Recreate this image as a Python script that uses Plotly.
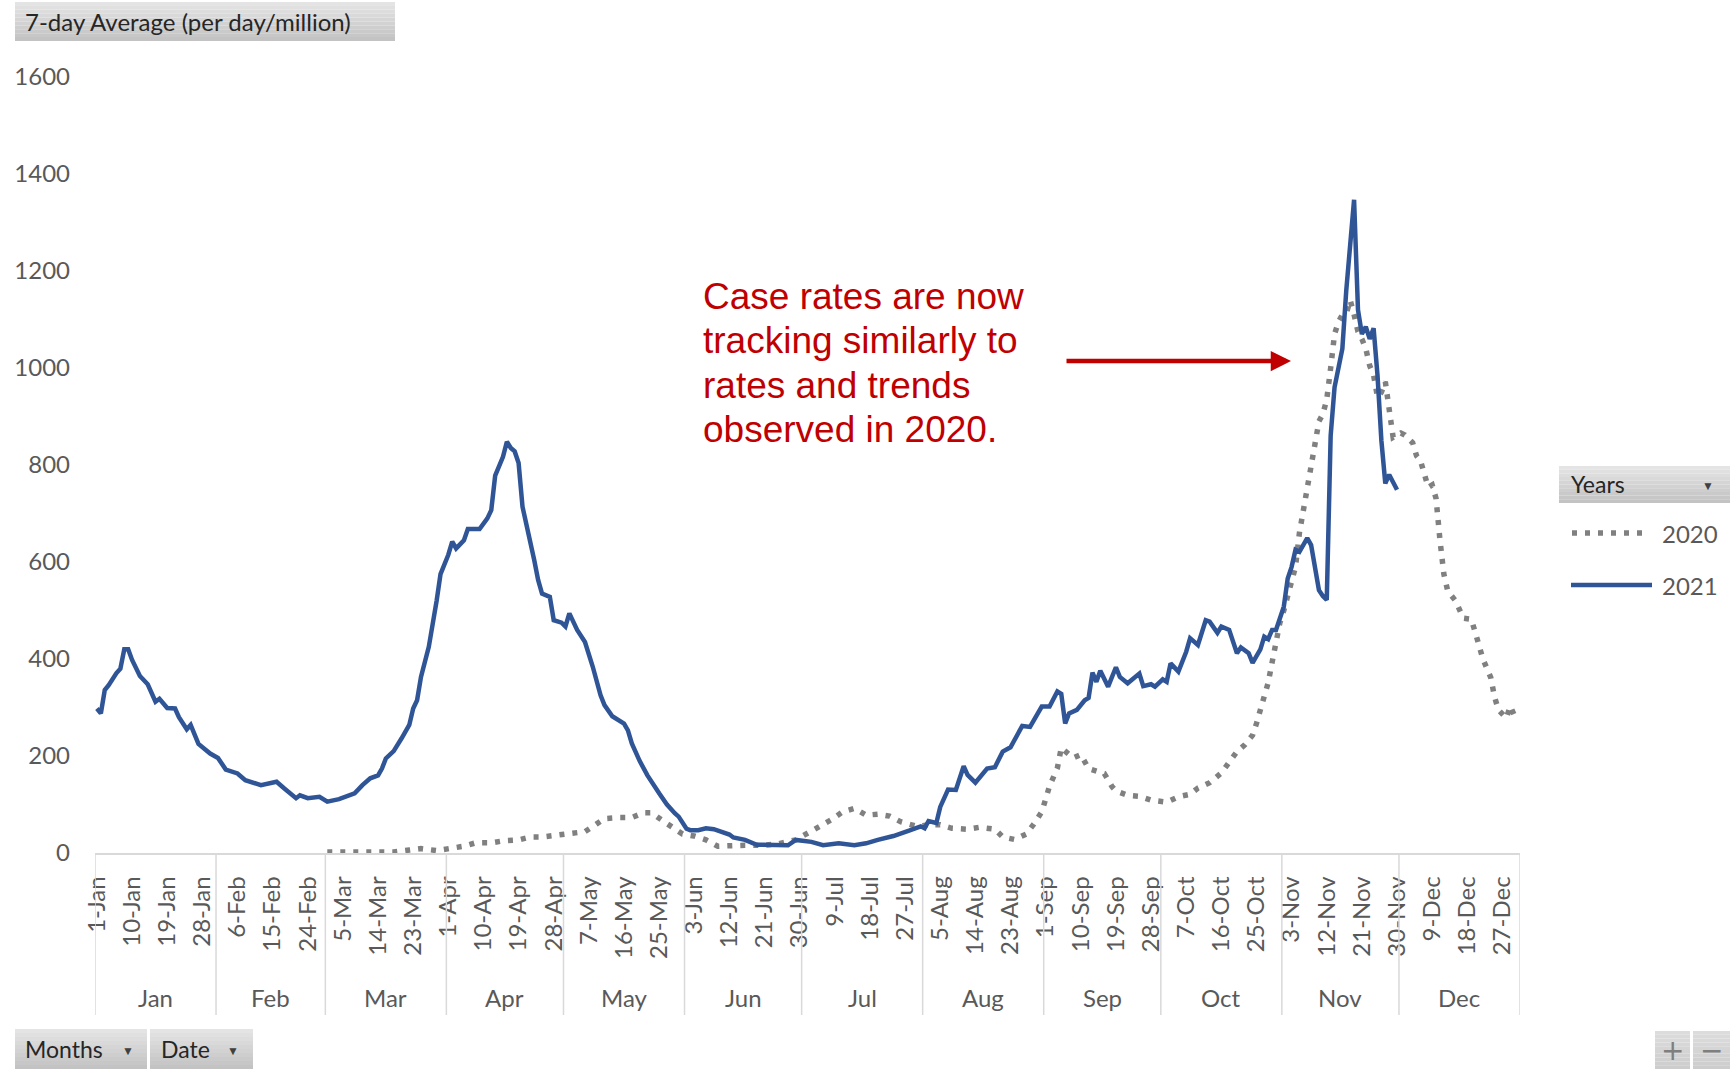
import plotly.graph_objects as go
import pandas as pd

# ---------------- data ----------------
YEAR_NAMES = ["2020", "2021"]
MONTHS = ["Jan", "Feb", "Mar", "Apr", "May", "Jun",
          "Jul", "Aug", "Sep", "Oct", "Nov", "Dec"]
MONTH_DAYS = [31, 28, 31, 30, 31, 30, 31, 31, 30, 31, 30, 31]

# day offsets from 1-Jan (0 = 1-Jan) and 7-day average values per day/million
DAY_2020 = [59, 65, 71, 76, 80, 83, 87, 90, 94, 97, 101, 104, 108, 111, 114, 118,
            121, 125, 128, 130, 134, 137, 140, 142, 145, 147, 150, 153, 156, 159,
            162, 166, 170, 174, 179, 182, 185, 188, 191, 194, 197, 200, 203, 206,
            210, 213, 216, 219, 223, 226, 230, 232, 235, 238, 240, 242, 243, 244,
            246, 247, 250, 252, 254, 255, 258, 260, 261, 264, 267, 270, 274, 277,
            280, 282, 285, 288, 290, 292, 294, 296, 297, 298, 299, 300, 301, 302,
            303, 304, 305, 306, 307, 308, 309, 310, 311, 312, 313, 314, 315, 316,
            317, 318, 319, 320, 321, 322, 323, 324, 325, 326, 327, 328, 329, 330,
            331, 332, 334, 335, 337, 338, 339, 340, 341, 342, 343, 344, 345, 346,
            348, 350, 352, 353, 354, 355, 357, 358, 359, 361, 362, 363, 364]
VAL_2020 = [2, 2, 2, 2, 6, 9, 5, 9, 14, 21, 21, 25, 27, 33, 33, 37,
            40, 44, 60, 71, 73, 73, 83, 83, 66, 54, 39, 35, 27, 14,
            16, 16, 16, 18, 27, 40, 54, 68, 85, 92, 78, 80, 76, 64,
            55, 58, 58, 51, 49, 53, 49, 33, 28, 39, 60, 85, 111, 138,
            175, 217, 196, 203, 174, 172, 164, 137, 128, 119, 117, 109, 105, 116,
            121, 134, 145, 165, 185, 209, 223, 243, 267, 295, 322, 351, 393, 436,
            475, 500, 528, 557, 590, 660, 705, 745, 800, 850, 890, 905, 935, 1000,
            1070, 1095, 1110, 1112, 1140, 1110, 1075, 1060, 1040, 1005, 985, 940, 950, 972,
            914, 857, 866, 862, 846, 819, 809, 782, 754, 759, 731, 645, 575, 540,
            520, 484, 482, 456, 429, 400, 362, 321, 295, 278, 303, 285, 280]

DAY_2021 = [0, 1, 2, 3, 5, 6, 7, 8, 9, 11, 13, 15, 16, 18, 20, 21, 23, 24, 26, 29,
            31, 33, 36, 38, 42, 46, 48, 49, 51, 52, 54, 57, 59, 62, 64, 66, 68, 70,
            72, 73, 74, 76, 78, 80, 81, 82, 83, 85, 87, 88, 90, 91, 92, 94, 95, 98,
            100, 101, 102, 103, 104, 105, 106, 107, 108, 109, 110, 112, 113, 114,
            116, 117, 119, 120, 121, 123, 125, 127, 129, 130, 132, 135, 136, 137,
            139, 141, 144, 146, 148, 149, 151, 152, 154, 156, 158, 160, 162, 163,
            166, 169, 173, 177, 179, 183, 186, 190, 194, 197, 200, 204, 208, 211,
            212, 213, 215, 216, 218, 220, 222, 223, 225, 228, 230, 232, 234, 237,
            239, 242, 244, 246, 247, 248, 249, 251, 253, 254, 255, 256, 257, 259,
            261, 262, 264, 267, 268, 270, 271, 273, 274, 275, 277, 279, 280, 282,
            284, 285, 287, 288, 290, 292, 293, 295, 296, 298, 299, 300, 301, 302,
            304, 305, 306, 307, 308, 310, 311, 312, 313, 314, 315, 316, 317, 318,
            319, 320, 321, 322, 323, 324, 325, 326, 327, 328, 329, 330, 331, 332, 333]
VAL_2021 = [298, 288, 336, 346, 371, 380, 420, 420, 398, 365, 348, 312, 318, 299, 298, 280, 255, 264, 225, 205,
            196, 172, 164, 150, 140, 147, 133, 126, 113, 119, 113, 116, 106, 111, 116, 123, 140, 154,
            160, 174, 195, 210, 236, 264, 298, 315, 363, 425, 520, 575, 615, 642, 628, 645, 668, 668,
            690, 707, 778, 795, 817, 848, 835, 828, 804, 714, 680, 604, 563, 535,
            528, 480, 475, 467, 494, 460, 435, 384, 325, 305, 282, 267, 253, 226,
            190, 160, 123, 100, 82, 75, 50, 47, 47, 51, 49, 44, 38, 32,
            27, 17, 16, 16, 27, 23, 16, 20, 16, 20, 27, 35, 46, 55,
            51, 66, 62, 95, 131, 130, 179, 161, 145, 174, 177, 209, 218, 262,
            260, 302, 302, 333, 328, 267, 288, 295, 315, 320, 372, 353, 376, 343,
            383, 363, 350, 370, 344, 348, 343, 358, 353, 391, 374, 415, 443, 429,
            480, 477, 454, 467, 460, 412, 424, 412, 392, 420, 446, 441, 460, 460,
            508, 566, 590, 625, 621, 649, 635, 590, 542, 530, 522, 860, 960, 1000,
            1040, 1160, 1250, 1347, 1120, 1070, 1085, 1060, 1082, 985, 850, 762, 780, 765, 749]

Y_TICKS = [0, 200, 400, 600, 800, 1000, 1200, 1400, 1600]
TICK_EVERY_DAYS = 9
ANNOTATION_LINES = ["Case rates are now", "tracking similarly to",
                    "rates and trends", "observed in 2020."]

# ---------------- layout helpers ----------------
W, H = 1730, 1069
# plot area in page pixels
PL, PR, PT, PB = 95, 1520, 77, 853


def px(x):
    return (x - PL) / (PR - PL)


def py(y):
    return (PB - y) / (PB - PT)


FONT = "Lato, Calibri, sans-serif"
GRAY_TXT = "#595959"

dates = pd.date_range("2021-01-01", periods=365, freq="D")
tickvals = list(range(0, 365, TICK_EVERY_DAYS))
ticktext = [f"{dates[i].day}-{dates[i].strftime('%b')}" for i in tickvals]

fig = go.Figure()
fig.add_trace(go.Scatter(
    x=DAY_2020, y=VAL_2020, mode="lines", name=YEAR_NAMES[0],
    line=dict(color="#808080", width=5.5, dash="5px,8px"),
    text=[f"{dates[d].day}-{dates[d].strftime('%b')}" for d in DAY_2020],
    hovertemplate="%{text}: %{y}<extra>2020</extra>"))
fig.add_trace(go.Scatter(
    x=DAY_2021, y=VAL_2021, mode="lines", name=YEAR_NAMES[1],
    line=dict(color="#2F5597", width=4.5),
    text=[f"{dates[d].day}-{dates[d].strftime('%b')}" for d in DAY_2021],
    hovertemplate="%{text}: %{y}<extra>2021</extra>"))

shapes = []
annotations = []

# month separators and month labels
start = 0
bounds = [0]
for m, n in zip(MONTHS, MONTH_DAYS):
    annotations.append(dict(x=start + n / 2 - 0.5, y=py(997), xref="x", yref="paper",
                            text=m, showarrow=False, xanchor="center", yanchor="middle",
                            font=dict(family=FONT, size=24, color=GRAY_TXT)))
    start += n
    bounds.append(start)
for b in bounds:
    shapes.append(dict(type="line", xref="x", yref="paper", x0=b - 0.5, x1=b - 0.5,
                       y0=0, y1=py(1015), line=dict(color="#d9d9d9", width=1.5)))


def grad_rect(x0, y0, x1, y1, top="#e4e4e4", bottom="#c3c3c3", n=10):
    def hx(c):
        return [int(c[i:i + 2], 16) for i in (1, 3, 5)]
    a, b = hx(top), hx(bottom)
    for i in range(n):
        t = i / (n - 1)
        col = "#" + "".join(f"{int(round(a[k] + (b[k] - a[k]) * t)):02x}" for k in range(3))
        ya = y0 + (y1 - y0) * i / n
        yb = y0 + (y1 - y0) * (i + 1) / n
        shapes.append(dict(type="rect", xref="paper", yref="paper",
                           x0=px(x0), x1=px(x1), y0=py(ya), y1=py(yb),
                           line=dict(width=0), fillcolor=col, layer="below"))


def label(x, y, text, size=23, color="#262626", anchor="left", family=FONT):
    annotations.append(dict(x=px(x), y=py(y), xref="paper", yref="paper", text=text,
                            showarrow=False, xanchor=anchor, yanchor="middle",
                            font=dict(family=family, size=size, color=color)))


# title button
grad_rect(15, 2, 395, 41)
label(23, 21, "7-day Average (per day/million)", size=24)

# bottom field buttons
grad_rect(15, 1029, 147, 1069)
label(23, 1049, "Months")
label(128, 1050, "▼", size=12, color="#404040", anchor="center")
grad_rect(150, 1029, 253, 1069)
label(159, 1049, "Date")
label(233, 1050, "▼", size=12, color="#404040", anchor="center")

# zoom buttons
grad_rect(1655, 1031, 1690, 1069, top="#dcdcdc", bottom="#cdcdcd")
grad_rect(1693, 1031, 1730, 1069, top="#dcdcdc", bottom="#cdcdcd")
label(1672, 1050, "+", size=28, color="#7f7f7f", anchor="center", family="DejaVu Sans")
label(1711, 1050, "−", size=28, color="#7f7f7f", anchor="center", family="DejaVu Sans")

# custom legend (Excel pivot style)
grad_rect(1559, 466, 1730, 503)
label(1569, 484, "Years")
label(1708, 485, "▼", size=12, color="#404040", anchor="center")
shapes.append(dict(type="line", xref="paper", yref="paper", x0=px(1572), x1=px(1648),
                   y0=py(533), y1=py(533),
                   line=dict(color="#808080", width=5.5, dash="5px,8px")))
shapes.append(dict(type="line", xref="paper", yref="paper", x0=px(1571), x1=px(1652),
                   y0=py(585), y1=py(585), line=dict(color="#2F5597", width=4.5)))
label(1660, 533, YEAR_NAMES[0], size=24, color=GRAY_TXT)
label(1660, 585, YEAR_NAMES[1], size=24, color=GRAY_TXT)

# red annotation text + arrow
for i, line in enumerate(ANNOTATION_LINES):
    label(701, 296 + i * 44.6, line, size=37, color="#C00000",
          family="Liberation Sans, Arial, sans-serif")
annotations.append(dict(x=px(1291), y=py(361), xref="paper", yref="paper", text="",
                        showarrow=True, ax=-226, ay=0, arrowhead=2, arrowsize=0.9,
                        arrowwidth=4.5, arrowcolor="#C00000", standoff=0))

fig.update_layout(
    width=W, height=H, autosize=False,
    margin=dict(l=PL, r=W - PR, t=PT, b=H - PB, pad=0, autoexpand=False),
    paper_bgcolor="white", plot_bgcolor="white",
    showlegend=False,
    shapes=shapes, annotations=annotations,
    xaxis=dict(range=[-0.5, 364.5], tickmode="array", tickvals=tickvals, ticktext=ticktext,
               tickangle=-90, showgrid=False, zeroline=False, showline=True,
               linecolor="#d9d9d9", linewidth=1.5, ticks="", ticklabelstandoff=12,
               automargin=False,
               tickfont=dict(family=FONT, size=24, color=GRAY_TXT), fixedrange=True),
    yaxis=dict(range=[0, 1600], tickmode="array", tickvals=Y_TICKS, showgrid=False,
               zeroline=False, showline=False, ticks="", ticklabelstandoff=24,
               automargin=False,
               tickfont=dict(family=FONT, size=24, color=GRAY_TXT), fixedrange=True),
)

PAGE_CSS_JS = ("document.body.style.margin='0';"
               "document.body.style.overflow='hidden';"
               "document.documentElement.style.overflow='hidden';")
fig.write_html("out.html", post_script=PAGE_CSS_JS,
               config={"displayModeBar": False})
